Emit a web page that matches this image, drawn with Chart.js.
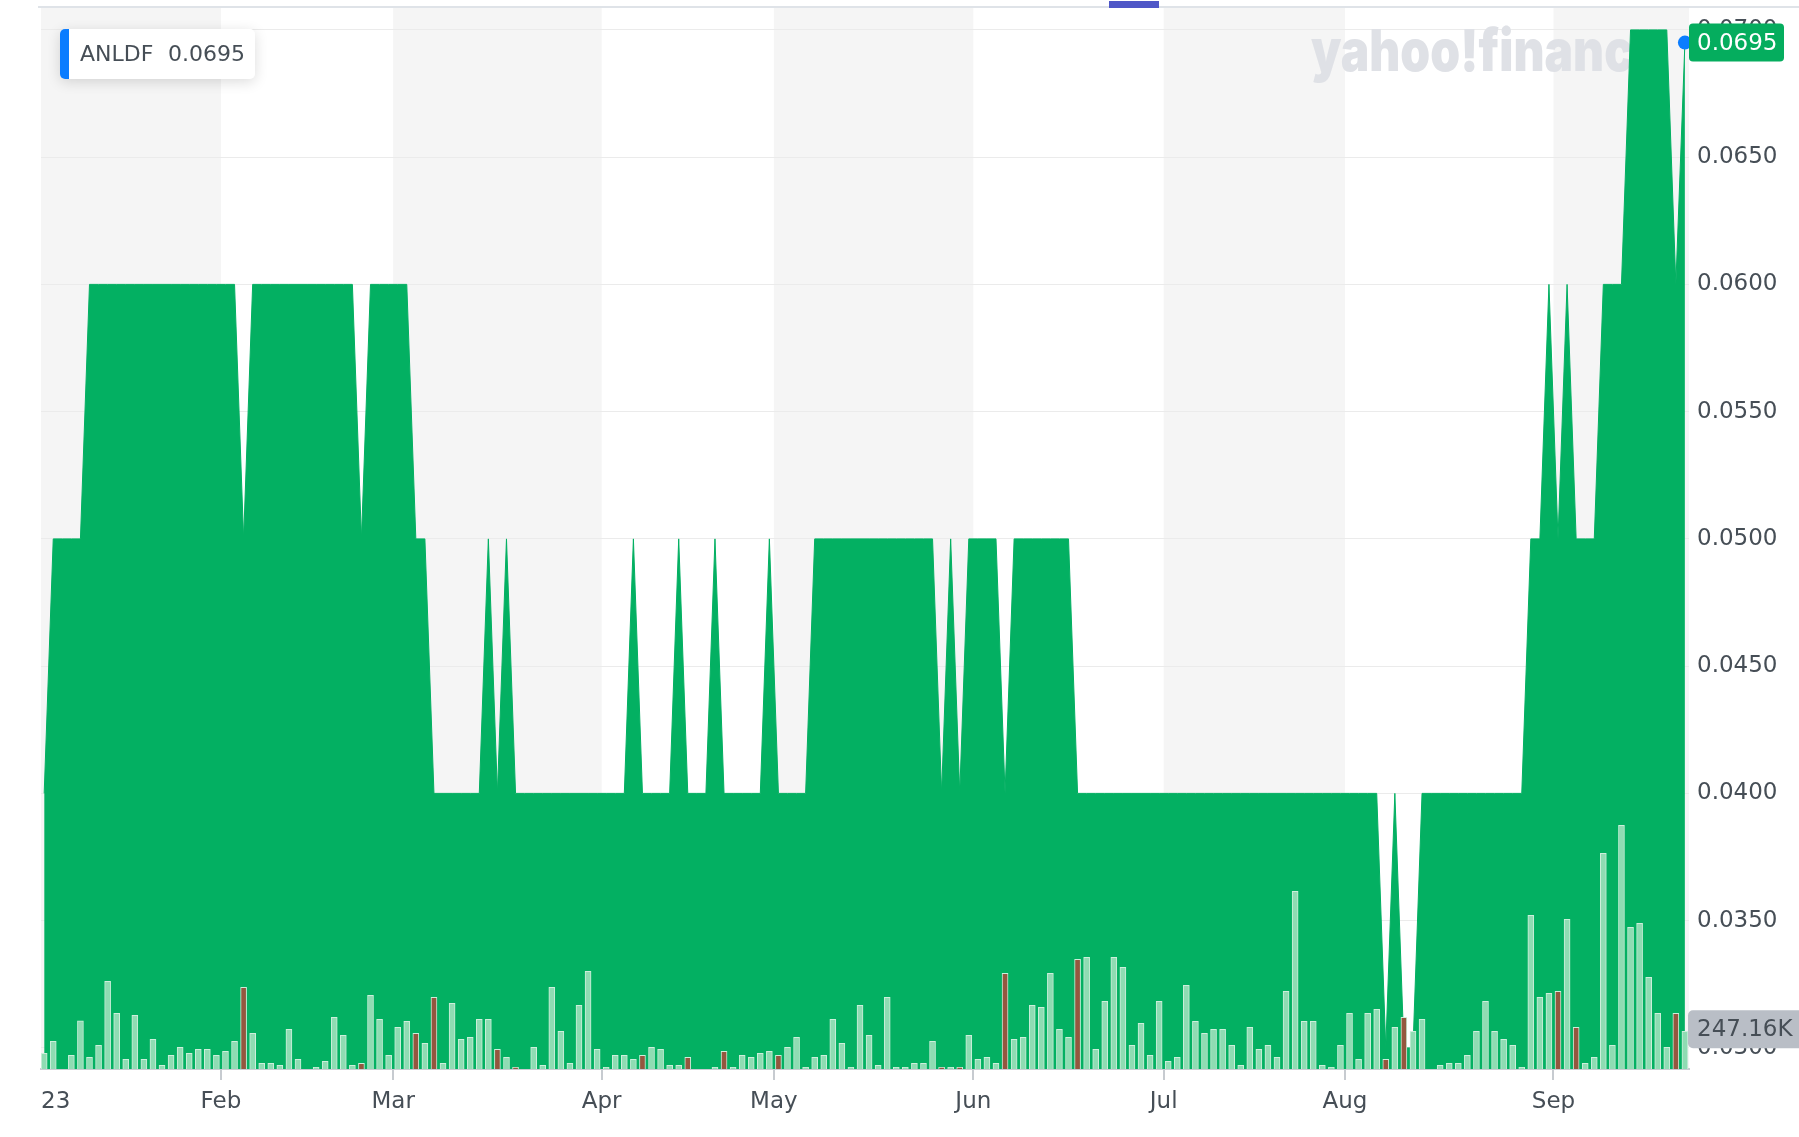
<!DOCTYPE html>
<html>
<head>
<meta charset="utf-8">
<title>ANLDF</title>
<script src="https://cdn.jsdelivr.net/npm/chart.js@4.4.0/dist/chart.umd.min.js"></script>
<style>
  html, body { margin: 0; padding: 0; background: #fff; }
  #wrap { width: 1799px; height: 1137px; }
</style>
</head>
<body>
<div id="wrap"><canvas id="chart" width="1799" height="1137"></canvas></div>
<script>
// ANLDF daily closes, one entry per trading day (3 Jan -> 22 Sep)
const symbol = 'ANLDF';
const closes = [
  0.040, 0.050, 0.050, 0.050, 0.050, 0.060, 0.060, 0.060, 0.060, 0.060,
  0.060, 0.060, 0.060, 0.060, 0.060, 0.060, 0.060, 0.060, 0.060, 0.060,
  0.060, 0.060, 0.050, 0.060, 0.060, 0.060, 0.060, 0.060, 0.060, 0.060,
  0.060, 0.060, 0.060, 0.060, 0.060, 0.050, 0.060, 0.060, 0.060, 0.060,
  0.060, 0.050, 0.050, 0.040, 0.040, 0.040, 0.040, 0.040, 0.040, 0.050,
  0.040, 0.050, 0.040, 0.040, 0.040, 0.040, 0.040, 0.040, 0.040, 0.040,
  0.040, 0.040, 0.040, 0.040, 0.040, 0.050, 0.040, 0.040, 0.040, 0.040,
  0.050, 0.040, 0.040, 0.040, 0.050, 0.040, 0.040, 0.040, 0.040, 0.040,
  0.050, 0.040, 0.040, 0.040, 0.040, 0.050, 0.050, 0.050, 0.050, 0.050,
  0.050, 0.050, 0.050, 0.050, 0.050, 0.050, 0.050, 0.050, 0.050, 0.040,
  0.050, 0.040, 0.050, 0.050, 0.050, 0.050, 0.040, 0.050, 0.050, 0.050,
  0.050, 0.050, 0.050, 0.050, 0.040, 0.040, 0.040, 0.040, 0.040, 0.040,
  0.040, 0.040, 0.040, 0.040, 0.040, 0.040, 0.040, 0.040, 0.040, 0.040,
  0.040, 0.040, 0.040, 0.040, 0.040, 0.040, 0.040, 0.040, 0.040, 0.040,
  0.040, 0.040, 0.040, 0.040, 0.040, 0.040, 0.040, 0.040, 0.030, 0.040,
  0.030, 0.030, 0.040, 0.040, 0.040, 0.040, 0.040, 0.040, 0.040, 0.040,
  0.040, 0.040, 0.040, 0.040, 0.050, 0.050, 0.060, 0.050, 0.060, 0.050,
  0.050, 0.050, 0.060, 0.060, 0.060, 0.070, 0.070, 0.070, 0.070, 0.070,
  0.060, 0.0695
];

// daily volume, thousands of shares
const volumesK = [
  103, 182, 0, 90, 315, 77, 155, 575, 365, 64,
  352, 64, 195, 24, 90, 142, 103, 129, 129, 90,
  116, 182, 536, 234, 37, 37, 24, 260, 64, 0,
  11, 50, 339, 221, 24, 37, 483, 326, 90, 273,
  313, 234, 168, 470, 37, 431, 195, 208, 326, 326,
  129, 77, 11, 0, 142, 24, 536, 247, 37, 418,
  641, 129, 11, 90, 90, 64, 90, 142, 129, 24,
  24, 77, 0, 0, 11, 116, 11, 90, 77, 103,
  116, 90, 142, 208, 11, 77, 90, 326, 168, 11,
  418, 221, 24, 470, 11, 11, 37, 37, 182, 11,
  11, 11, 221, 64, 77, 37, 627, 195, 208, 418,
  405, 627, 260, 208, 719, 732, 129, 444, 732, 667,
  155, 300, 90, 444, 50, 77, 549, 313, 234, 260,
  260, 155, 24, 273, 129, 155, 77, 509, 1165, 313,
  313, 24, 11, 155, 365, 64, 365, 391, 64, 273,
  339, 247, 326, 0, 24, 37, 37, 90, 247, 444,
  247, 195, 155, 11, 1008, 470, 496, 509, 981, 273,
  37, 77, 1414, 155, 1598, 929, 955, 601, 365, 142,
  365, 247.16
];

// first trading day of each month and its axis label
const monthStartIdx = [0, 20, 39, 62, 81, 103, 124, 144, 167];
const monthLabels = ['23', 'Feb', 'Mar', 'Apr', 'May', 'Jun', 'Jul', 'Aug', 'Sep'];

const priceTicks = [0.0300, 0.0350, 0.0400, 0.0450, 0.0500, 0.0550, 0.0600, 0.0650, 0.0700];
const priceMin = 0.02917;
const priceMax = 0.07086;
const volumeMaxK = 6956;

const GREEN = '#03b062';
const TEXT = '#464e56';
const FONT = 'DejaVu Sans';

const last = closes.length - 1;
const pricePoints = closes.map((c, i) => ({ x: i, y: c }));
const volumePoints = volumesK.map((v, i) => ({ x: i, y: v }));
const isDown = i => i > 0 && closes[i] < closes[i - 1];

function roundRect(ctx, x, y, w, h, r) {
  ctx.beginPath();
  ctx.moveTo(x + r, y);
  ctx.arcTo(x + w, y, x + w, y + h, r);
  ctx.arcTo(x + w, y + h, x, y + h, r);
  ctx.arcTo(x, y + h, x, y, r);
  ctx.arcTo(x, y, x + w, y, r);
  ctx.closePath();
}

const decorations = {
  id: 'decorations',
  beforeDraw(chart) {
    const { ctx, chartArea: a, scales: { x } } = chart;
    ctx.save();
    ctx.fillStyle = '#fff';
    ctx.fillRect(0, 0, chart.width, chart.height);
    // alternating month bands, starting grey
    ctx.fillStyle = '#f5f5f5';
    monthStartIdx.forEach((idx, k) => {
      if (k % 2) return;
      const x0 = k === 0 ? a.left : x.getPixelForValue(idx - 0.5);
      const x1 = k + 1 < monthStartIdx.length ? x.getPixelForValue(monthStartIdx[k + 1] - 0.5) : a.right;
      ctx.fillRect(x0, a.top, x1 - x0, a.bottom - a.top);
    });
    ctx.restore();
  },
  beforeDatasetsDraw(chart) {
    // faint watermark, sits under the price area
    const { ctx, chartArea: a } = chart;
    ctx.save();
    ctx.font = '900 58px Inter';
    ctx.fillStyle = '#dfe1e6';
    ctx.textBaseline = 'alphabetic';
    const sx = 322 / ctx.measureText('yahoo!financ').width;
    ctx.translate(a.right - 378, a.top + 63);
    ctx.scale(sx, 1);
    ctx.fillText('yahoo!finance', 0, 0);
    ctx.restore();
  },
  afterDraw(chart) {
    const { ctx, chartArea: a, scales: { x, y, yv } } = chart;
    ctx.save();

    // top rule and the small indicator above it
    ctx.fillStyle = '#dfe3e8';
    ctx.fillRect(a.left - 3, 6, chart.width, 2);
    ctx.fillStyle = '#4f57c7';
    ctx.fillRect(1109, 1, 50, 7);

    // month ticks and labels
    ctx.font = `23px ${FONT}`;
    ctx.textBaseline = 'middle';
    monthStartIdx.forEach((idx, k) => {
      const px = k === 0 ? a.left : x.getPixelForValue(idx - 0.5);
      if (k > 0) {
        ctx.fillStyle = '#c7cbd0';
        ctx.fillRect(Math.round(px) - 1, a.bottom + 1, 2, 10);
      }
      ctx.fillStyle = TEXT;
      ctx.textAlign = k === 0 ? 'left' : 'center';
      ctx.fillText(monthLabels[k], px, a.bottom + 33);
    });

    // symbol legend card
    ctx.save();
    ctx.shadowColor = 'rgba(0,0,0,0.14)';
    ctx.shadowBlur = 14;
    ctx.shadowOffsetY = 3;
    roundRect(ctx, 60, 29, 195, 50, 5);
    ctx.fillStyle = '#fff';
    ctx.fill();
    ctx.restore();
    ctx.save();
    roundRect(ctx, 60, 29, 195, 50, 5);
    ctx.clip();
    ctx.fillStyle = '#0b7dff';
    ctx.fillRect(60, 29, 9, 50);
    ctx.restore();
    ctx.font = `22px ${FONT}`;
    ctx.fillStyle = TEXT;
    ctx.textAlign = 'left';
    ctx.fillText(symbol, 80, 55);
    ctx.fillText(closes[last].toFixed(4), 168, 55);

    // last price tag on the right axis
    const py = y.getPixelForValue(closes[last]);
    roundRect(ctx, a.right, py - 19, 95, 38, 4);
    ctx.fillStyle = '#05ad5e';
    ctx.fill();
    ctx.font = `23px ${FONT}`;
    ctx.fillStyle = '#fff';
    ctx.fillText(closes[last].toFixed(4), a.right + 8, py + 1);

    // last volume tag
    const vy = yv.getPixelForValue(volumesK[last]) - 2;
    roundRect(ctx, a.right - 1, vy - 19, 125, 38, 5);
    ctx.fillStyle = '#b9bec6';
    ctx.fill();
    ctx.fillStyle = TEXT;
    ctx.fillText(volumesK[last].toFixed(2) + 'K', a.right + 8, vy + 1);

    ctx.restore();
  }
};

Chart.defaults.font.family = FONT;

new Chart(document.getElementById('chart'), {
  data: {
    datasets: [
      {
        type: 'bar',
        label: 'Volume',
        data: volumePoints,
        yAxisID: 'yv',
        order: 0,
        barThickness: 6,
        borderWidth: 1,
        borderSkipped: 'start',
        borderColor: '#cdefdb',
        backgroundColor: c => (isDown(c.dataIndex) ? '#94573f' : '#8fdcb3')
      },
      {
        type: 'line',
        label: symbol,
        data: pricePoints,
        yAxisID: 'y',
        order: 1,
        fill: 'start',
        backgroundColor: GREEN,
        borderColor: GREEN,
        borderWidth: 1,
        tension: 0,
        clip: false,
        pointRadius: c => (c.dataIndex === last ? 7 : 0),
        pointHoverRadius: 0,
        pointBackgroundColor: '#0b7dff',
        pointBorderWidth: 0
      }
    ]
  },
  options: {
    responsive: false,
    animation: false,
    devicePixelRatio: 1,
    events: [],
    layout: { padding: { left: 41, top: 8, right: 0, bottom: 0 } },
    plugins: {
      legend: { display: false },
      tooltip: { enabled: false }
    },
    scales: {
      x: {
        type: 'linear',
        min: -0.35,
        max: last + 0.45,
        offset: false,
        afterFit: s => {
          s.height = 68;
          s.paddingLeft = 0;
          s.paddingRight = 0;
        },
        ticks: { display: false },
        grid: { display: false },
        border: { display: true, color: '#c9cdd2', width: 2 }
      },
      y: {
        type: 'linear',
        position: 'right',
        min: priceMin,
        max: priceMax,
        afterBuildTicks: s => { s.ticks = priceTicks.map(v => ({ value: v })); },
        afterFit: s => {
          s.width = 110;
          s.paddingTop = 0;
          s.paddingBottom = 0;
        },
        ticks: {
          padding: 8,
          color: TEXT,
          font: { size: 23, family: FONT },
          callback: v => v.toFixed(4)
        },
        grid: { color: '#ebebeb', lineWidth: 1, drawTicks: false },
        border: { display: false }
      },
      yv: {
        type: 'linear',
        display: false,
        min: 0,
        max: volumeMaxK
      }
    }
  },
  plugins: [decorations]
});
</script>
</body>
</html>
